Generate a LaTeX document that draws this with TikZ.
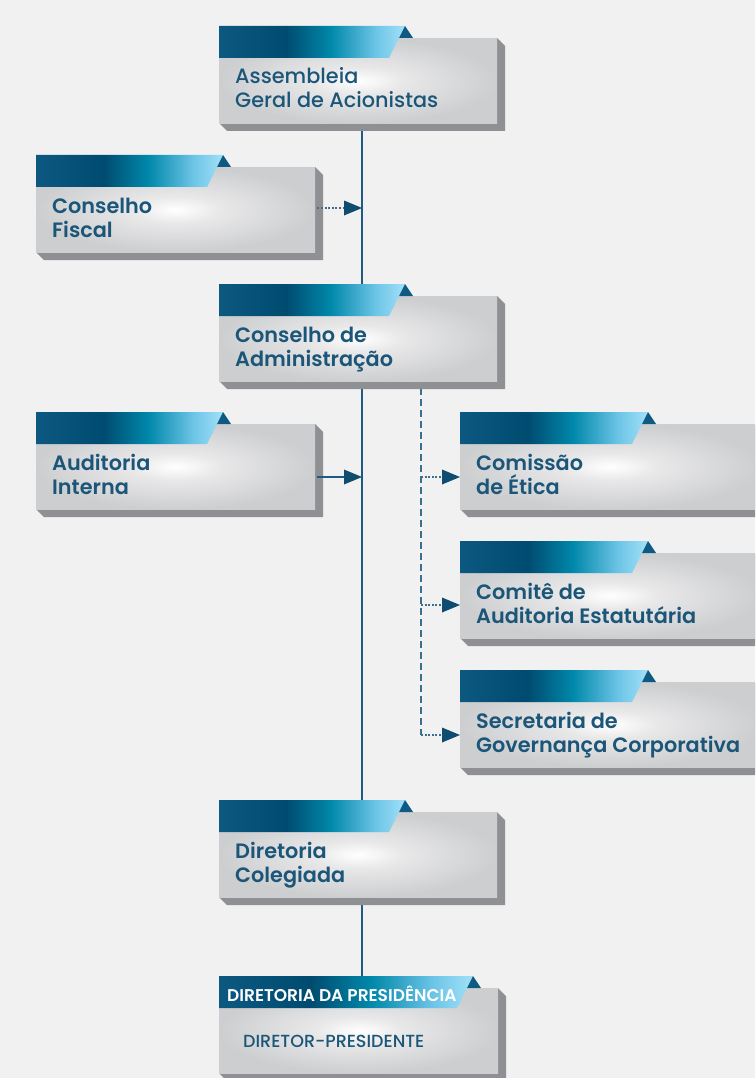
\documentclass[tikz,border=0pt]{standalone}
\usepackage{fontspec}
\setmainfont{Poppins}
\newfontfamily\medf{Poppins Medium}
\newfontfamily\semif{Poppins SemiBold}
\usetikzlibrary{calc,arrows.meta}
\definecolor{bgc}{HTML}{F1F1F1}
\definecolor{panelmid}{HTML}{E8E8E9}
\definecolor{paneledge}{HTML}{CDCED0}
\definecolor{shadowc}{HTML}{8F9094}
\definecolor{tab1}{HTML}{0C5880}
\definecolor{tab2}{HTML}{004B70}
\definecolor{tab3}{HTML}{0088AA}
\definecolor{tab4}{HTML}{6CC4E6}
\definecolor{tab5}{HTML}{A2E1F8}
\definecolor{trianglec}{HTML}{0E5A82}
\definecolor{txtc}{HTML}{1B5679}
\definecolor{linec}{HTML}{1F5A80}
\definecolor{dashc}{HTML}{3A6F90}
\definecolor{headc}{HTML}{0F4C70}
\pgfdeclareradialshading{panelshade}{\pgfpoint{0bp}{0bp}}{color(0bp)=(white); color(8bp)=(panelmid); color(25bp)=(paneledge); color(50bp)=(paneledge)}
\pgfdeclarehorizontalshading{tabshade}{100bp}{color(0bp)=(tab1); color(25bp)=(tab1); color(43bp)=(tab2); color(55bp)=(tab3); color(67bp)=(tab4); color(75bp)=(tab5); color(100bp)=(tab5)}
\pgfdeclarelayer{bg}
\pgfdeclarelayer{lines}
\pgfsetlayers{bg,lines,main}
% #1 name, #2 x, #3 y (tab top), #4 panel width, #5 tab width, #6 font, #7 text
\newcommand\orgbox[7]{%
  \fill[shadowc] (#2,#3+97) -- (#2+8,#3+105) -- (#2+#4+8,#3+105) -- (#2+#4+8,#3+20) -- (#2+#4,#3+12) -- cycle;
  \node[panel, minimum width=#4, minimum height=85, anchor=north west] (#1) at (#2,#3+12) {};
  \coordinate (#1-tab) at (#2,#3);
  \shade[shading=tabshade] (#2,#3) -- (#2+#5,#3) -- (#2+#5-16,#3+32) -- (#2,#3+32) -- cycle;
  \fill[trianglec] (#2+#5,#3) -- (#2+#5+8,#3+12) -- (#2+#5-6,#3+12) -- cycle;
  \node[boxtext, font=#6\fontsize{20.8}{24}\selectfont] (#1-t) at (#2+16,#3+82) {#7};
}
\begin{document}
\begin{tikzpicture}[x=1pt,y=-1pt,
  panel/.style={shade, shading=panelshade, draw=none, inner sep=0},
  boxtext/.style={text=txtc, align=left, inner sep=0, anchor=base west},
  trunkline/.style={draw=linec, line width=2pt},
  dashline/.style={draw=dashc, line width=2pt, dash pattern=on 7pt off 4pt},
  dotarrow/.style={draw=dashc, line width=2pt, dash pattern=on 2pt off 1.6pt, -{Triangle[length=18pt,width=15pt,fill=headc,line width=0pt]}},
  solidarrow/.style={draw=linec, line width=2pt, -{Triangle[length=18pt,width=15pt,fill=headc,line width=0pt]}}]
\useasboundingbox (0,0) rectangle (755,1078);
\clip (0,0) rectangle (755,1078);
\begin{pgfonlayer}{bg}
  \fill[bgc] (0,0) rectangle (755,1078);
\end{pgfonlayer}
\coordinate (trunk) at (362,0);
\coordinate (dash) at (421,0);

\orgbox{A}{219}{26}{278}{186}{\medf}{Assembleia\\Geral de Acionistas}
\orgbox{CF}{36}{155}{279}{187}{\semif}{Conselho\\Fiscal}
\orgbox{CA}{219}{284}{278}{186}{\semif}{Conselho de\\Administração}
\orgbox{AI}{36}{412}{279}{187}{\semif}{Auditoria\\Interna}
\orgbox{CE}{460}{412}{300}{188}{\semif}{Comissão\\de Ética}
\orgbox{CAE}{460}{541}{300}{188}{\semif}{Comitê de\\Auditoria Estatutária}
\orgbox{SGC}{460}{670}{300}{188}{\semif}{Secretaria de\\Governança Corporativa}
\orgbox{DC}{219}{800}{278}{186}{\semif}{Diretoria\\Colegiada}
\orgbox{DP}{219}{976}{279}{254}{\semif}{}
\node[font=\semif\fontsize{17}{17}\selectfont, text=white, anchor=base west, inner sep=0] (DP-title) at (227,1001) {DIRETORIA DA PRESIDÊNCIA};
\node[font=\medf\fontsize{17.5}{17.5}\selectfont, text=txtc, anchor=base west, inner sep=0] (DP-name) at (243,1047) {DIRETOR-PRESIDENTE};

% connector end points
\coordinate (cfa) at ($(CF.north east)+(2,41)$);
\coordinate (aia) at ($(AI.north east)+(2,53)$);
\coordinate (cea) at ($(CE.north west)+(0,53)$);
\coordinate (caea) at ($(CAE.north west)+(0,52)$);
\coordinate (sgca) at ($(SGC.north west)+(0,53)$);
\coordinate (dtop) at ($(CA.south)+(0,7)$);

\begin{pgfonlayer}{lines}
  \draw[trunkline] (A.south -| trunk) -- (DP-tab -| trunk);
  \draw[dashline] (dtop -| dash) -- (sgca -| dash);
\end{pgfonlayer}
\draw[dotarrow] (cfa) -- (cfa -| trunk);
\draw[solidarrow] (aia) -- (aia -| trunk);
\draw[dotarrow] (cea -| dash) -- (cea);
\draw[dotarrow] (caea -| dash) -- (caea);
\draw[dotarrow] (sgca -| dash) -- (sgca);
\end{tikzpicture}
\end{document}
